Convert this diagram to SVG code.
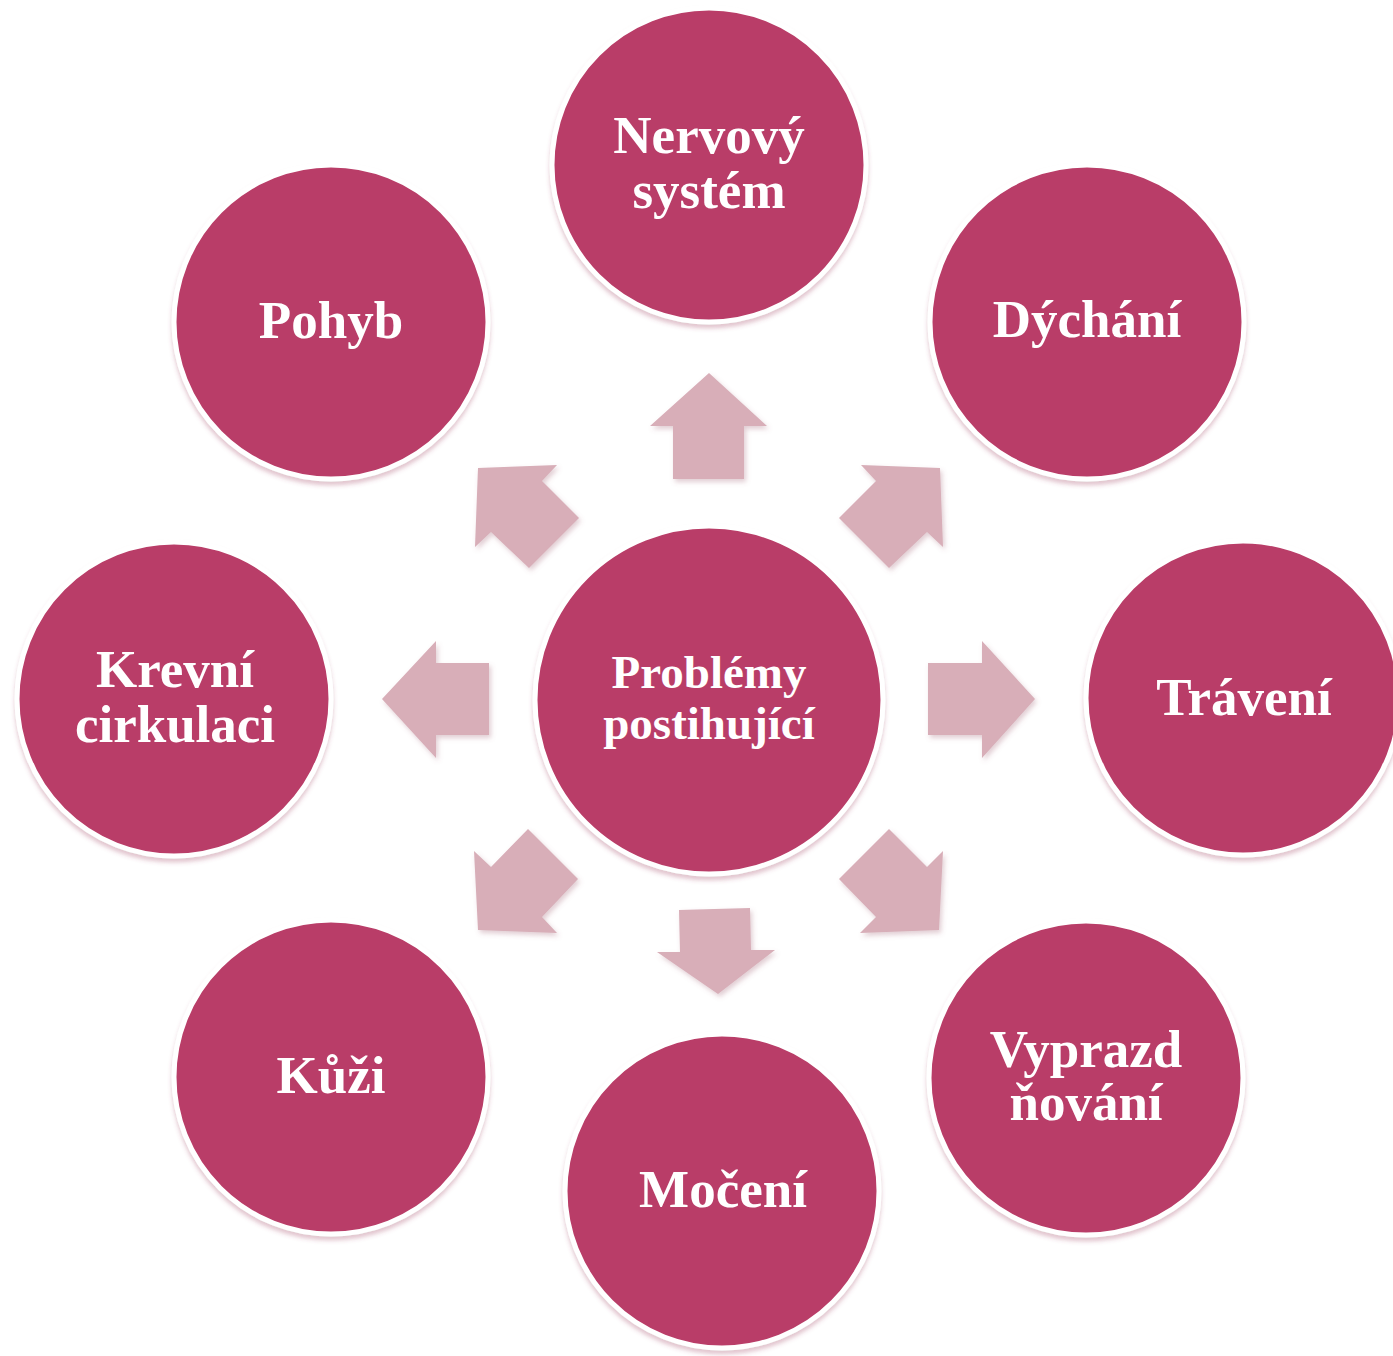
<svg xmlns="http://www.w3.org/2000/svg" width="1393" height="1356" viewBox="0 0 1393 1356">
  <defs>
    <filter id="shadow" x="-20%" y="-20%" width="140%" height="140%">
      <feDropShadow dx="0" dy="4" stdDeviation="2" flood-color="#A04060" flood-opacity="0.3"/>
    </filter>
    <filter id="ashadow" x="-20%" y="-20%" width="140%" height="140%">
      <feDropShadow dx="2" dy="3" stdDeviation="2.5" flood-color="#9E5A6E" flood-opacity="0.3"/>
    </filter>
  </defs>
  <style>
    .node circle { fill: #B93D67; stroke: #FFFFFF; stroke-width: 5; filter: url(#shadow); }
    .node text { fill: #FFFFFF; font-family: "Liberation Serif", "Times New Roman", serif; font-weight: bold; font-size: 53px; text-anchor: middle; }
    #center text { font-size: 47px; }
    .arrow { fill: #D8AEB8; filter: url(#ashadow); }
  </style>
  <rect width="1393" height="1356" fill="#FFFFFF"/>

  <g id="connectors">
    <polygon class="arrow" points="709,373 767,426 744,426 744,479 673,479 673,426 650,426"/>
    <polygon class="arrow" points="861,465 940,468 943,547 927,532 889,568 839,518 876,481"/>
    <polygon class="arrow" points="557,465 478,468 475,547 491,532 529,568 579,518 542,481"/>
    <polygon class="arrow" points="382,699 436,641 436,663 489,663 489,735 436,735 436,758"/>
    <polygon class="arrow" points="1035,699 982,641 982,663 928,663 928,735 982,735 982,758"/>
    <polygon class="arrow" points="528,829 578,879 542,917 557,933 478,930 474,851 491,867"/>
    <polygon class="arrow" points="889,829 927,867 943,851 939,930 860,933 876,917 839,879"/>
    <polygon class="arrow" points="679,910 750,908 751,950 775,950 718,994 657,952 680,952"/>
  </g>

  <g id="nervovy" class="node">
    <circle cx="709" cy="165" r="157"/>
    <text x="709" y="153">Nervový</text>
    <text x="709" y="208">systém</text>
  </g>
  <g id="pohyb" class="node">
    <circle cx="331" cy="322" r="157"/>
    <text x="331" y="338">Pohyb</text>
  </g>
  <g id="dychani" class="node">
    <circle cx="1087" cy="322" r="157"/>
    <text x="1087" y="337">Dýchání</text>
  </g>
  <g id="krevni" class="node">
    <circle cx="174" cy="699" r="157"/>
    <text x="175" y="687">Krevní</text>
    <text x="175" y="742">cirkulaci</text>
  </g>
  <g id="center" class="node">
    <circle cx="709" cy="700" r="174"/>
    <text x="709" y="688">Problémy</text>
    <text x="709" y="739">postihující</text>
  </g>
  <g id="traveni" class="node">
    <circle cx="1243" cy="698" r="157"/>
    <text x="1244" y="715">Trávení</text>
  </g>
  <g id="kuzi" class="node">
    <circle cx="331" cy="1077" r="157"/>
    <text x="331" y="1093">Kůži</text>
  </g>
  <g id="moceni" class="node">
    <circle cx="722" cy="1191" r="157"/>
    <text x="723" y="1207">Močení</text>
  </g>
  <g id="vyprazdnovani" class="node">
    <circle cx="1086" cy="1078" r="157"/>
    <text x="1086" y="1067">Vyprazd</text>
    <text x="1086" y="1120">ňování</text>
  </g>
</svg>
